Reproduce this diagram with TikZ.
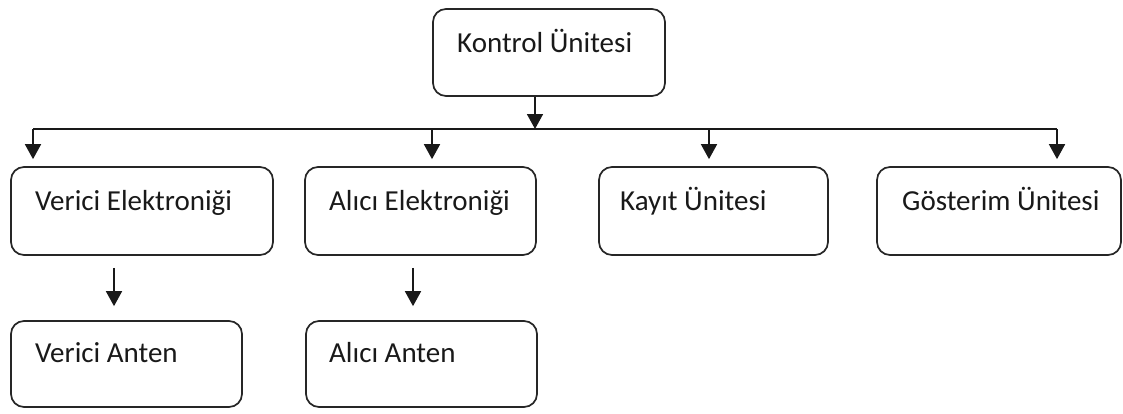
\documentclass[tikz,border=0pt]{standalone}
\usepackage{fontspec}
\setmainfont{Carlito}
\usetikzlibrary{arrows.meta}
\begin{document}
\begin{tikzpicture}[x=1pt,y=-1pt,
  box/.style={draw=black!85, line width=1.7pt, rounded corners=13pt, inner sep=0pt},
  txt/.style={anchor=base west, inner sep=0pt, font=\fontsize{29}{34}\selectfont, text=black!90},
  arr/.style={-{Triangle[width=16pt,length=15pt]}, line width=1.7pt, draw=black!90},
  ln/.style={line width=1.7pt, draw=black!90}]
\useasboundingbox (0,0) rectangle (1123,413);
% boxes
\node[box, minimum width=232pt, minimum height=87pt] (ku) at (549,52.5) {};
\node[box, minimum width=262pt, minimum height=88pt] (ve) at (142,211) {};
\node[box, minimum width=231pt, minimum height=88pt] (ae) at (420.5,211) {};
\node[box, minimum width=229pt, minimum height=88pt] (ka) at (713.5,211) {};
\node[box, minimum width=244pt, minimum height=88pt] (gu) at (999,211) {};
\node[box, minimum width=231pt, minimum height=86pt] (va) at (126.5,364) {};
\node[box, minimum width=231pt, minimum height=86pt] (aa) at (421.5,364) {};
% texts
\node[txt] (tku) at (457,52) {Kontrol Ünitesi};
\node[txt] (tve) at (35,210) {Verici Elektroniği};
\node[txt] (tae) at (329,210) {Alıcı Elektroniği};
\node[txt] (tka) at (620,210) {Kayıt Ünitesi};
\node[txt] (tgu) at (902,210) {Gösterim Ünitesi};
\node[txt] (tva) at (35,362) {Verici Anten};
\node[txt] (taa) at (329,362) {Alıcı Anten};
% bus
\coordinate (b1) at (33,129);
\coordinate (b2) at (432,129);
\coordinate (b3) at (709,129);
\coordinate (b4) at (1057,129);
\coordinate (bk) at (535,129);
\draw[ln] (b1) -- (b4);
\draw[arr] (bk |- ku.south) -- (bk);
\draw[arr, shorten >=7pt] (b1) -- (b1 |- ve.north);
\draw[arr, shorten >=7pt] (b2) -- (b2 |- ae.north);
\draw[arr, shorten >=7pt] (b3) -- (b3 |- ka.north);
\draw[arr, shorten >=7pt] (b4) -- (b4 |- gu.north);
% lower arrows
\coordinate (v1) at (114,0);
\coordinate (v2) at (413,0);
\draw[arr, shorten <=12pt, shorten >=14pt] (v1 |- ve.south) -- (v1 |- va.north);
\draw[arr, shorten <=12pt, shorten >=14pt] (v2 |- ae.south) -- (v2 |- aa.north);
\end{tikzpicture}
\end{document}
